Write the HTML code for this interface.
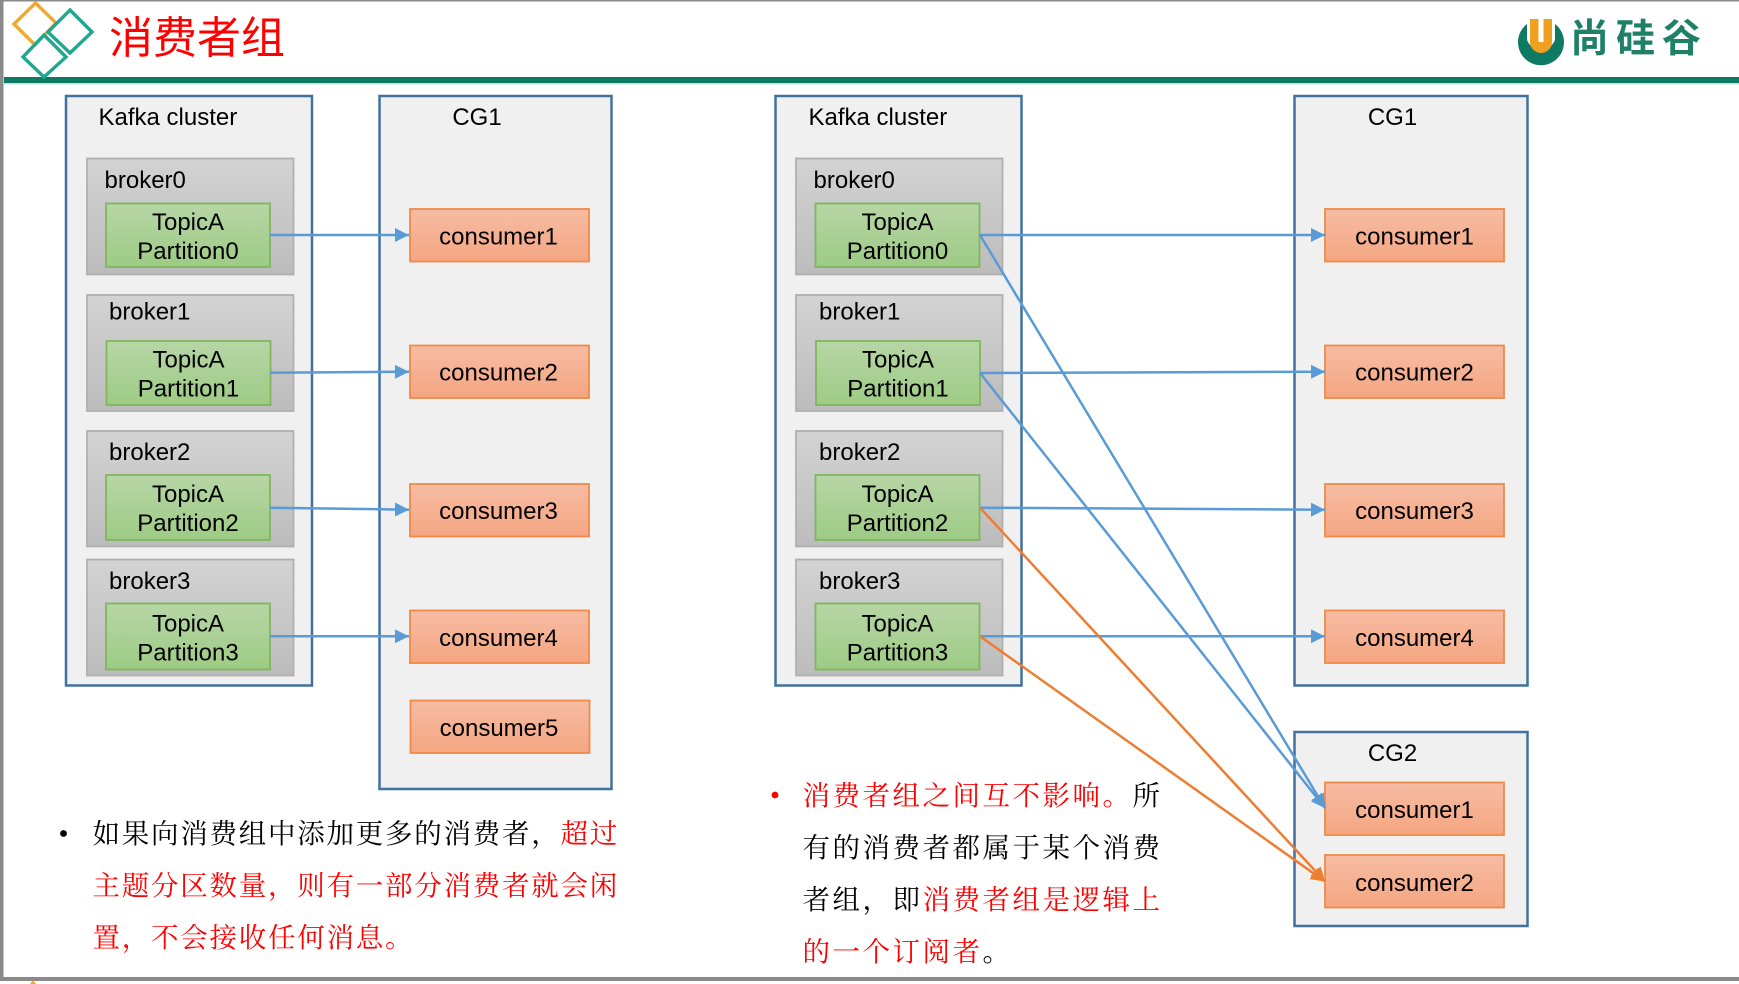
<!DOCTYPE html>
<html lang="zh">
<head>
<meta charset="utf-8">
<title>消费者组</title>
<style>
html,body{margin:0;padding:0;background:#fff;width:1739px;height:984px;overflow:hidden}
svg{display:block}
text{font-family:"Liberation Sans","Noto Sans CJK SC",sans-serif;font-size:24px;fill:#000}
.m{text-anchor:middle}
.cn{font-family:"Liberation Serif","Noto Serif CJK SC",serif;font-size:27.5px;fill:#000}
.r{fill:#f00}
.blue{stroke:#5b9bd5;stroke-width:2.5;fill:none}
.or{stroke:#ed7d31;stroke-width:2.5;fill:none}
.box{fill:#f0f0f0;stroke:#41719c;stroke-width:2.5}
.br{fill:url(#gb);stroke:#b0b0b0;stroke-width:1.8}
.tp{fill:url(#gt);stroke:#7fb65e;stroke-width:1.8}
.cs{fill:url(#gc);stroke:#ef8a48;stroke-width:1.8}
</style>
</head>
<body>
<svg width="1739" height="984" viewBox="0 0 1739 984" xmlns="http://www.w3.org/2000/svg">
<defs>
<linearGradient id="gb" x1="0" y1="0" x2="0" y2="1"><stop offset="0" stop-color="#d3d3d3"/><stop offset="1" stop-color="#bcbcbc"/></linearGradient>
<linearGradient id="gt" x1="0" y1="0" x2="0" y2="1"><stop offset="0" stop-color="#b7d6a6"/><stop offset="1" stop-color="#9dcb84"/></linearGradient>
<linearGradient id="gc" x1="0" y1="0" x2="0" y2="1"><stop offset="0" stop-color="#f6bca3"/><stop offset="1" stop-color="#f5a682"/></linearGradient>
<marker id="ab" markerUnits="userSpaceOnUse" markerWidth="15" markerHeight="15" refX="14" refY="7" orient="auto"><path d="M0 0L14 7L0 14Z" fill="#5b9bd5"/></marker>
<marker id="ao" markerUnits="userSpaceOnUse" markerWidth="15" markerHeight="15" refX="14" refY="7" orient="auto"><path d="M0 0L14 7L0 14Z" fill="#ed7d31"/></marker>
</defs>

<rect width="1739" height="984" fill="#fff"/>
<rect x="0" y="0" width="1739" height="1.5" fill="#8a8a8a"/>
<rect x="0" y="0" width="3.5" height="981" fill="#8a8a8a"/>
<rect x="0" y="977" width="1739" height="4" fill="#8a8a8a"/>
<path d="M30 984L33 980L36 984Z" fill="#f0a830"/>

<!-- header -->
<rect x="4" y="77" width="1735" height="6" fill="#0f7a63"/>
<rect x="4" y="83" width="1735" height="1.5" fill="#c4e4dc"/>
<path d="M35.5 3L56 23L35 45L14 24Z" fill="none" stroke="#f0a830" stroke-width="3.4"/>
<path d="M70 10L92 32L70 53L48 32Z" fill="none" stroke="#1fa88e" stroke-width="3.4"/>
<path d="M44 35L66 57L44 77L23 57Z" fill="none" stroke="#1fa88e" stroke-width="3.4"/>
<text x="109" y="53" style="font-size:44px;fill:#f00;font-family:'Noto Sans CJK SC',sans-serif">消费者组</text>

<!-- brand -->
<path d="M1527 24A23 23 0 1 0 1555 24L1555 40A15 15 0 0 1 1527 40Z" fill="#0f7a63"/>
<path d="M1530 19H1552V42A11 11 0 0 1 1530 42Z" fill="#f0a020"/>
<rect x="1538.5" y="19" width="5" height="23" fill="#fff"/>
<text x="1570" y="52" style="font-size:39px;font-weight:700;fill:#1f8068;letter-spacing:7px;font-family:'Noto Sans CJK SC',sans-serif">尚硅谷</text>

<!-- left Kafka cluster -->
<rect class="box" x="66" y="96" width="246" height="589.5"/>
<text x="98.5" y="125">Kafka cluster</text>
<rect class="br" x="87" y="158.5" width="206.5" height="116"/>
<text x="104.5" y="188">broker0</text>
<rect class="tp" x="106" y="203.5" width="164" height="63.5"/>
<text class="m" x="188" y="230">TopicA</text><text class="m" x="188" y="259">Partition0</text>
<rect class="br" x="87" y="295" width="206.5" height="116"/>
<text x="109" y="319.5">broker1</text>
<rect class="tp" x="106.5" y="341" width="164" height="64"/>
<text class="m" x="188.5" y="367.5">TopicA</text><text class="m" x="188.5" y="396.5">Partition1</text>
<rect class="br" x="87" y="431" width="206.5" height="115.5"/>
<text x="109" y="460">broker2</text>
<rect class="tp" x="106" y="475" width="164" height="65"/>
<text class="m" x="188" y="502">TopicA</text><text class="m" x="188" y="531">Partition2</text>
<rect class="br" x="87" y="559.5" width="206.5" height="116"/>
<text x="109" y="589">broker3</text>
<rect class="tp" x="106" y="603.5" width="164" height="66"/>
<text class="m" x="188" y="631.5">TopicA</text><text class="m" x="188" y="660.5">Partition3</text>

<!-- left CG1 -->
<rect class="box" x="379.5" y="96" width="232" height="693"/>
<text class="m" x="477" y="125">CG1</text>
<rect class="cs" x="410" y="209" width="179" height="52.5"/><text class="m" x="498.5" y="244.5">consumer1</text>
<rect class="cs" x="410" y="345.5" width="179" height="52.5"/><text class="m" x="498.5" y="380.5">consumer2</text>
<rect class="cs" x="410" y="484" width="179" height="52.5"/><text class="m" x="498.5" y="519">consumer3</text>
<rect class="cs" x="410" y="610.5" width="179" height="52.5"/><text class="m" x="498.5" y="646">consumer4</text>
<rect class="cs" x="410.5" y="700.5" width="179" height="52.5"/><text class="m" x="499" y="736">consumer5</text>

<!-- right Kafka cluster -->
<rect class="box" x="775.5" y="96" width="246" height="589.5"/>
<text x="808.5" y="125">Kafka cluster</text>
<rect class="br" x="796" y="158.5" width="206.5" height="116"/>
<text x="813.5" y="188">broker0</text>
<rect class="tp" x="815.5" y="203.5" width="164" height="63.5"/>
<text class="m" x="897.5" y="230">TopicA</text><text class="m" x="897.5" y="259">Partition0</text>
<rect class="br" x="796" y="295" width="206.5" height="116"/>
<text x="819" y="319.5">broker1</text>
<rect class="tp" x="816" y="341" width="164" height="64"/>
<text class="m" x="898" y="367.5">TopicA</text><text class="m" x="898" y="396.5">Partition1</text>
<rect class="br" x="796" y="431" width="206.5" height="115.5"/>
<text x="819" y="460">broker2</text>
<rect class="tp" x="815.5" y="475" width="164" height="65"/>
<text class="m" x="897.5" y="502">TopicA</text><text class="m" x="897.5" y="531">Partition2</text>
<rect class="br" x="796" y="559.5" width="206.5" height="116"/>
<text x="819" y="589">broker3</text>
<rect class="tp" x="815.5" y="603.5" width="164" height="66"/>
<text class="m" x="897.5" y="631.5">TopicA</text><text class="m" x="897.5" y="660.5">Partition3</text>

<!-- right CG1 -->
<rect class="box" x="1294.5" y="96" width="233" height="589.5"/>
<text class="m" x="1392.5" y="125">CG1</text>
<rect class="cs" x="1325" y="209" width="179" height="52.5"/><text class="m" x="1414.5" y="244.5">consumer1</text>
<rect class="cs" x="1325" y="345.5" width="179" height="52.5"/><text class="m" x="1414.5" y="380.5">consumer2</text>
<rect class="cs" x="1325" y="484" width="179" height="52.5"/><text class="m" x="1414.5" y="519">consumer3</text>
<rect class="cs" x="1325" y="610.5" width="179" height="52.5"/><text class="m" x="1414.5" y="646">consumer4</text>

<!-- CG2 -->
<rect class="box" x="1294.5" y="732" width="233" height="194"/>
<text class="m" x="1392.5" y="761">CG2</text>
<rect class="cs" x="1325" y="782.5" width="179" height="52.5"/><text class="m" x="1414.5" y="818">consumer1</text>
<rect class="cs" x="1325" y="855" width="179" height="52.5"/><text class="m" x="1414.5" y="891">consumer2</text>

<!-- connectors -->
<line class="blue" x1="270" y1="235" x2="409" y2="235" marker-end="url(#ab)"/>
<line class="blue" x1="270" y1="372.7" x2="409" y2="371.7" marker-end="url(#ab)"/>
<line class="blue" x1="270" y1="507.7" x2="409" y2="509.7" marker-end="url(#ab)"/>
<line class="blue" x1="270" y1="636.3" x2="409" y2="636.3" marker-end="url(#ab)"/>
<line class="blue" x1="980" y1="235" x2="1325" y2="235" marker-end="url(#ab)"/>
<line class="blue" x1="980" y1="373" x2="1325" y2="371.7" marker-end="url(#ab)"/>
<line class="blue" x1="980" y1="507.7" x2="1325" y2="509.7" marker-end="url(#ab)"/>
<line class="blue" x1="980" y1="636.3" x2="1325" y2="636.3" marker-end="url(#ab)"/>
<line class="blue" x1="980" y1="235" x2="1325" y2="808" marker-end="url(#ab)"/>
<line class="blue" x1="980" y1="373" x2="1325" y2="808" marker-end="url(#ab)"/>
<line class="or" x1="980" y1="507.7" x2="1325" y2="881.5" marker-end="url(#ao)"/>
<line class="or" x1="980" y1="636.3" x2="1325" y2="881.5" marker-end="url(#ao)"/>

<!-- left note -->
<circle cx="63.5" cy="833.5" r="3.4" fill="#000"/>
<text class="cn" x="92.5" y="843" letter-spacing="1.75">如果向消费组中添加更多的消费者，<tspan class="r">超过</tspan></text>
<text class="cn r" x="92.5" y="895" letter-spacing="1.75">主题分区数量，则有一部分消费者就会闲</text>
<text class="cn r" x="92.5" y="947" letter-spacing="1.75">置，不会接收任何消息。</text>

<!-- right note -->
<circle cx="775" cy="795" r="3.4" fill="#f00"/>
<text class="cn" x="802.5" y="805" letter-spacing="2.5"><tspan class="r">消费者组之间互不影响。</tspan>所</text>
<text class="cn" x="802.5" y="857" letter-spacing="2.5">有的消费者都属于某个消费</text>
<text class="cn" x="802.5" y="909" letter-spacing="2.5">者组，即<tspan class="r">消费者组是逻辑上</tspan></text>
<text class="cn" x="802.5" y="961" letter-spacing="2.5"><tspan class="r">的一个订阅者</tspan>。</text>
</svg>
</body>
</html>
